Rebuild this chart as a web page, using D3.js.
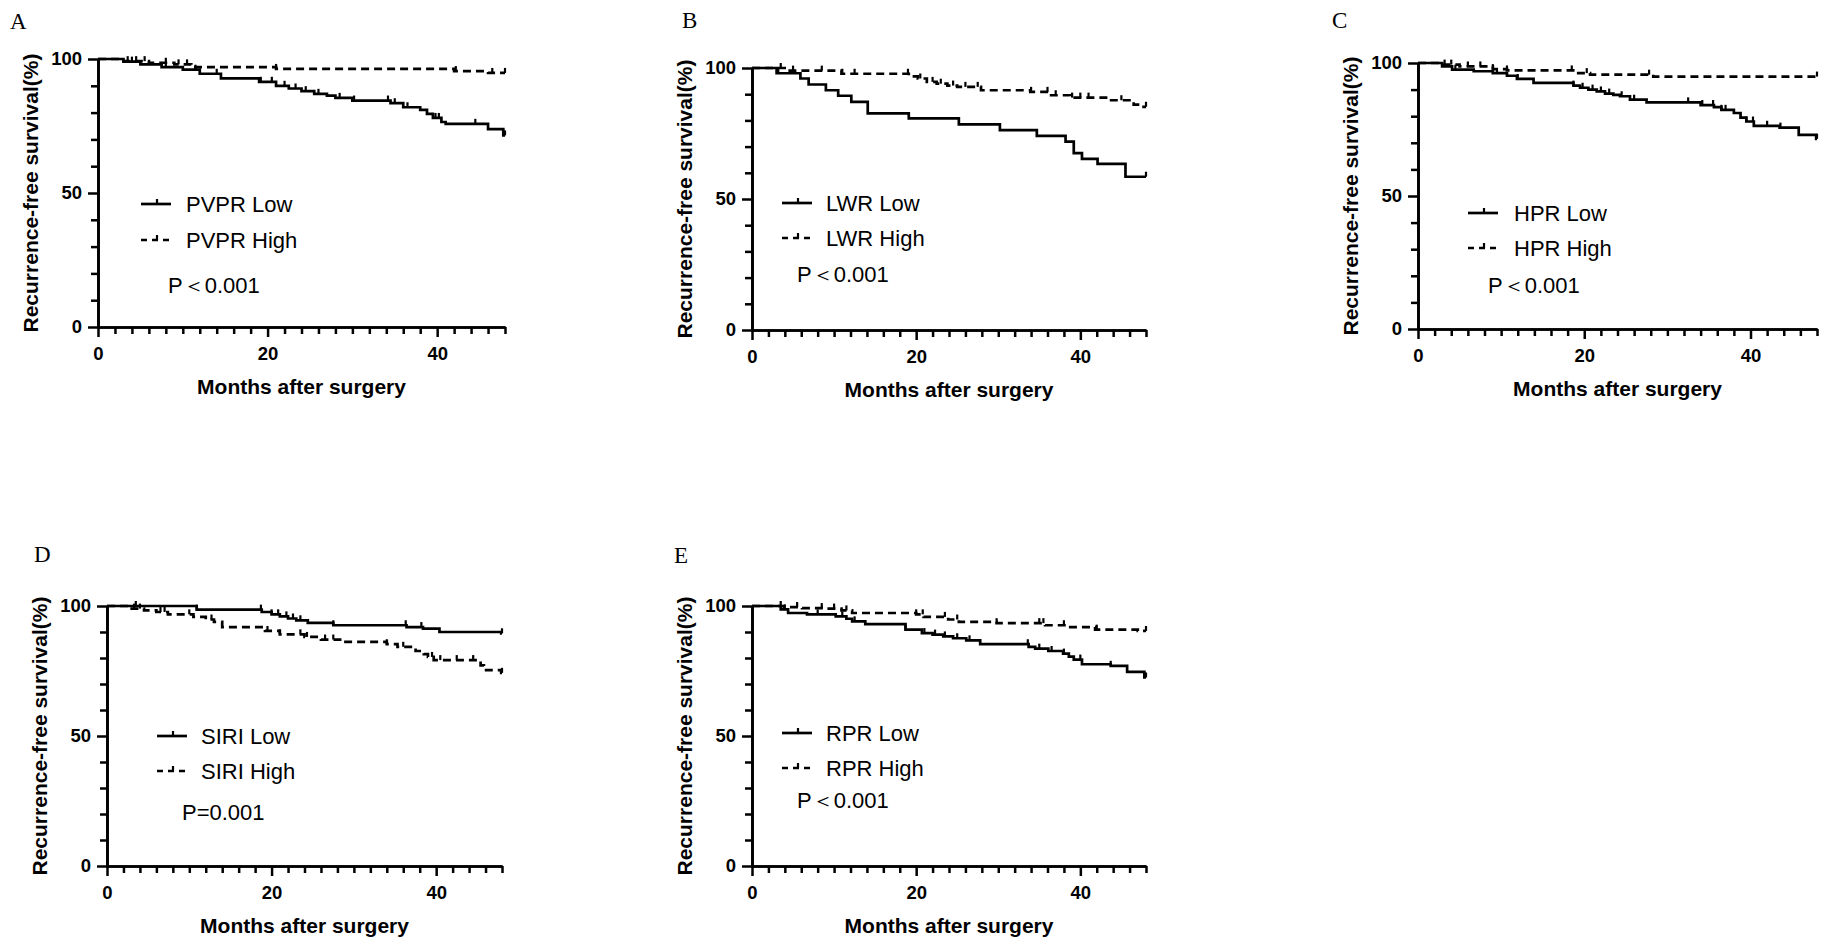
<!DOCTYPE html>
<html><head><meta charset="utf-8">
<script src="https://cdn.jsdelivr.net/npm/d3@7"></script>
<style>
html,body{margin:0;padding:0;background:#fff;}
svg{display:block;}
</style></head>
<body>
<svg id="chart" width="1831" height="944"></svg>
<script>
// ---------- data (months, survival %) ----------
const xMajorTicks = [0, 20, 40];
const yMajorTicks = [0, 50, 100];
const groupNames = ["PVPR", "LWR", "HPR", "SIRI", "RPR"];
const panelLetters = ["A", "B", "C", "D", "E"];
const pValues = ["P＜0.001", "P＜0.001", "P＜0.001", "P=0.001", "P＜0.001"];

const pvprLow = [[0,100],[3,99],[5,98],[7.5,97],[10,96],[12,94.5],[14.5,92.8],[19,91.5],[21,90],[22.5,89],[24,88],[25.5,87],[27,86.3],[28,85.5],[30,84.5],[34.5,83.5],[36,82],[38,81],[38.8,79.5],[39.5,78],[40.5,76.5],[41,75.8],[46,73.8],[47.8,71.5]];
const pvprLowCensor = [4,8,11.5,14,19.2,20.5,22,23.3,24.5,26,28.5,30.2,34.2,35,36.5,39.8,40.2,44.5,48];
const pvprHigh = [[0,100],[3,99.2],[6,98.6],[9,98],[11,97],[21,96.3],[42,95.5],[46,94.8]];
const pvprHighCensor = [3.5,4.5,5.5,8,9.5,10.5,21,42.2,46.5,48];

const lwrLow = [[0,100],[3,98],[5.9,96],[6.9,93.7],[9,91.5],[10.5,89.4],[12.1,87.1],[14.1,82.7],[19.1,80.8],[25.2,78.5],[30.2,76.3],[34.7,74.1],[38.2,71.9],[39.2,67.5],[40.2,65.3],[42.1,63.4],[45.5,58.5]];
const lwrLowCensor = [3.2,48];
const lwrHigh = [[0,100],[4.3,99],[10.9,97.8],[19.1,96.8],[20.2,96],[21.3,94.7],[22.5,94],[23.8,93.3],[25,92.8],[27.9,91.5],[33.9,90.9],[36.1,89.6],[38.7,88.7],[43.5,87.7],[46.5,86],[47.5,85.2]];
const lwrHighCensor = [3.5,5,8.5,11,12.5,19,20.5,22,23,24.5,26,27.5,34,36,37,39,40,41,45,48];

const hprLow = [[0,100],[2.9,98.7],[4.1,97.5],[6.7,96.9],[9,96.2],[10.7,95.2],[11.9,94],[13.9,92.5],[18.7,91.5],[19.5,90.7],[20.5,90],[21.5,89.3],[22.5,88.5],[23.5,88],[24.3,87.5],[25.5,86.2],[27.5,85.2],[34,84.2],[35.6,83.4],[36.5,82.4],[38,81.2],[38.8,79.5],[39.5,78],[40.4,76.4],[43.5,75.7],[45.8,73],[47.9,71.5]];
const hprLowCensor = [4.5,9.5,12,18.7,19.8,21,22,23,24.5,26,32.5,34.2,35.5,36.5,37,39.5,40.3,42,43.6,48];
const hprHigh = [[0,100],[2.9,99.4],[5,98.7],[9,97.7],[10.7,97.2],[19.1,96.2],[20.7,95.6],[28.3,94.9]];
const hprHighCensor = [3.2,4,6,7.5,9,10.7,18.5,20.3,27.8,48];

const siriLow = [[0,100],[10.9,98.6],[18.8,97.7],[20,96.8],[21,96],[22,95.2],[23,94.5],[24.4,93.5],[27.5,92.6],[36.4,91.9],[38.4,91.3],[40.4,90],[47.9,89.5]];
const siriLowCensor = [3.5,10.9,18.7,20,20.8,21.8,22.6,23.5,27.5,36.3,38.2,48];
const siriHigh = [[0,100],[3,99],[4.5,98.3],[6,97.7],[7.4,96.8],[10.5,95.8],[12,94.8],[13,93.9],[14,91.9],[19.2,90.4],[21,89.1],[24,88.1],[26,87.1],[28.8,86.2],[34,85.3],[35.3,84.3],[37.5,82.7],[38.5,81.5],[39,80.4],[39.7,79.2],[45.4,77.2],[45.8,75.3],[47.9,74.3]];
const siriHighCensor = [3.3,4,6.5,7,10,12.7,19.5,21,23.5,24.3,26.5,27.5,34,36,39.5,40.5,42.5,44.5,48];

const rprLow = [[0,100],[3.5,98.7],[4.4,97.3],[6.7,96.8],[10.2,96],[11.5,95.1],[12.2,94.1],[13.8,93],[18.7,90.9],[20.7,89.6],[22,89],[23.3,88.3],[24.5,87.6],[26.1,86.8],[27.8,85.3],[33.7,84.3],[34.5,83.6],[36.1,82.7],[37.9,81.7],[38.6,80.5],[39.2,79.4],[40.2,77.6],[43.7,77],[45.7,74.7],[47.8,72.5]];
const rprLowCensor = [4,8,11,12.5,18.7,21,22.3,23.5,25,26.5,33.6,35,36.5,38,40,43.7,48];
const rprHigh = [[0,100],[3.9,99.6],[6.1,99.2],[9.1,99],[10.9,98.3],[12.2,97.3],[20,96.8],[20.9,95.8],[23.9,94.8],[25.2,93.9],[29.8,93.4],[35.7,92.6],[38.3,91.9],[41.8,90.9],[47,90.4]];
const rprHighCensor = [3.5,5.5,8.5,10,11.5,20,20.8,23.5,25,29.8,35,35.5,38,42,48];

const lowSeries = [pvprLow, lwrLow, hprLow, siriLow, rprLow];
const lowCensors = [pvprLowCensor, lwrLowCensor, hprLowCensor, siriLowCensor, rprLowCensor];
const highSeries = [pvprHigh, lwrHigh, hprHigh, siriHigh, rprHigh];
const highCensors = [pvprHighCensor, lwrHighCensor, hprHighCensor, siriHighCensor, rprHighCensor];

// ---------- layout ----------
const layout = [
  {lx:10,  ly:29,  x0:98,   x1:505,  yT:59,  yB:327, legX:141,  legY:204, legY2:240, txtX:186,  pX:168,  pY:285},
  {lx:682, ly:28,  x0:752,  x1:1146, yT:68,  yB:330, legX:782,  legY:203, legY2:238, txtX:826,  pX:797,  pY:274},
  {lx:1332,ly:28,  x0:1418, x1:1817, yT:63,  yB:329, legX:1468, legY:213, legY2:248, txtX:1514, pX:1488, pY:285},
  {lx:34,  ly:562, x0:107,  x1:502,  yT:606, yB:866, legX:157,  legY:736, legY2:771, txtX:201,  pX:182,  pY:812},
  {lx:674, ly:563, x0:752,  x1:1146, yT:606, yB:866, legX:782,  legY:733, legY2:768, txtX:826,  pX:797,  pY:800}
];

const svg = d3.select("#chart");
svg.append("rect").attr("width",1831).attr("height",944).attr("fill","#fff");
const SANS = "'Liberation Sans', Arial, Helvetica, sans-serif";
const DASH = "8,5";

function survAt(series, t){
  let s = series[0][1];
  for (const [tt, v] of series) { if (tt <= t) s = v; }
  return s;
}

layout.forEach((L, i) => {
  const x = d3.scaleLinear().domain([0,48]).range([L.x0, L.x1]);
  const y = d3.scaleLinear().domain([0,100]).range([L.yB, L.yT]);
  const g = svg.append("g");

  g.append("text").attr("x", L.lx).attr("y", L.ly).text(panelLetters[i])
    .attr("font-family","'Liberation Serif','Times New Roman',serif").attr("font-size",23);

  const ax = (sel) => {
    sel.selectAll("path,line").attr("stroke","#000").attr("stroke-width",2.5);
    sel.selectAll("text").attr("font-family",SANS).attr("font-weight","bold").attr("font-size",18.5).attr("fill","#000");
  };
  const yMinor = d3.range(0,101,10).filter(v => !yMajorTicks.includes(v));
  const xMinor = d3.range(0,49,2).filter(v => !xMajorTicks.includes(v));
  g.append("g").attr("transform",`translate(${L.x0},0)`)
    .call(d3.axisLeft(y).tickValues(yMinor).tickSize(7).tickSizeOuter(0).tickFormat(""))
    .call(ax);
  g.append("g").attr("transform",`translate(${L.x0},0)`)
    .call(d3.axisLeft(y).tickValues(yMajorTicks).tickSize(10).tickSizeOuter(0).tickPadding(6))
    .call(ax);
  g.append("g").attr("transform",`translate(0,${L.yB})`)
    .call(d3.axisBottom(x).tickValues(xMinor).tickSize(7).tickSizeOuter(0).tickFormat(""))
    .call(ax);
  g.append("g").attr("transform",`translate(0,${L.yB})`)
    .call(d3.axisBottom(x).tickValues(xMajorTicks).tickSize(10).tickSizeOuter(0).tickPadding(10))
    .call(ax);
  g.selectAll(".domain").attr("stroke-width",2.7);

  g.append("text")
    .attr("transform",`translate(${L.x0-68},${(L.yT+L.yB)/2}) rotate(-90)`)
    .attr("text-anchor","middle").attr("dominant-baseline","central")
    .attr("font-family",SANS).attr("font-weight","bold").attr("font-size",21)
    .text("Recurrence-free survival(%)");
  g.append("text")
    .attr("x",(L.x0+L.x1)/2).attr("y",L.yB+67).attr("text-anchor","middle")
    .attr("font-family",SANS).attr("font-weight","bold").attr("font-size",21)
    .text("Months after surgery");

  const line = d3.line().x(d => x(d[0])).y(d => y(d[1])).curve(d3.curveStepAfter);
  const drawSeries = (series, censor, dashed) => {
    const pts = series.concat([[48, series[series.length-1][1]]]);
    g.append("path").attr("d", line(pts)).attr("fill","none")
      .attr("stroke","#000").attr("stroke-width",2.7)
      .attr("stroke-dasharray", dashed ? DASH : null);
    g.selectAll(null).data(censor).enter().append("line")
      .attr("x1", d => x(d)).attr("x2", d => x(d))
      .attr("y1", d => y(survAt(series,d))).attr("y2", d => y(survAt(series,d)) - 5)
      .attr("stroke","#000").attr("stroke-width",2.2);
  };
  drawSeries(highSeries[i], highCensors[i], true);
  drawSeries(lowSeries[i], lowCensors[i], false);

  const legItems = [
    {label: groupNames[i] + " Low", dashed:false, yy:L.legY},
    {label: groupNames[i] + " High", dashed:true, yy:L.legY2}
  ];
  legItems.forEach(it => {
    g.append("line").attr("x1",L.legX).attr("x2",L.legX+30).attr("y1",it.yy).attr("y2",it.yy)
      .attr("stroke","#000").attr("stroke-width",2.7).attr("stroke-dasharray", it.dashed ? "6,5" : null);
    g.append("line").attr("x1",L.legX+16).attr("x2",L.legX+16).attr("y1",it.yy).attr("y2",it.yy-5)
      .attr("stroke","#000").attr("stroke-width",2.2);
    g.append("text").attr("x",L.txtX).attr("y",it.yy).attr("dominant-baseline","central")
      .attr("font-family",SANS).attr("font-size",22).text(it.label);
  });
  g.append("text").attr("x",L.pX).attr("y",L.pY).attr("dominant-baseline","central")
    .attr("font-family",SANS).attr("font-size",22).text(pValues[i]);
});
</script>
</body></html>
